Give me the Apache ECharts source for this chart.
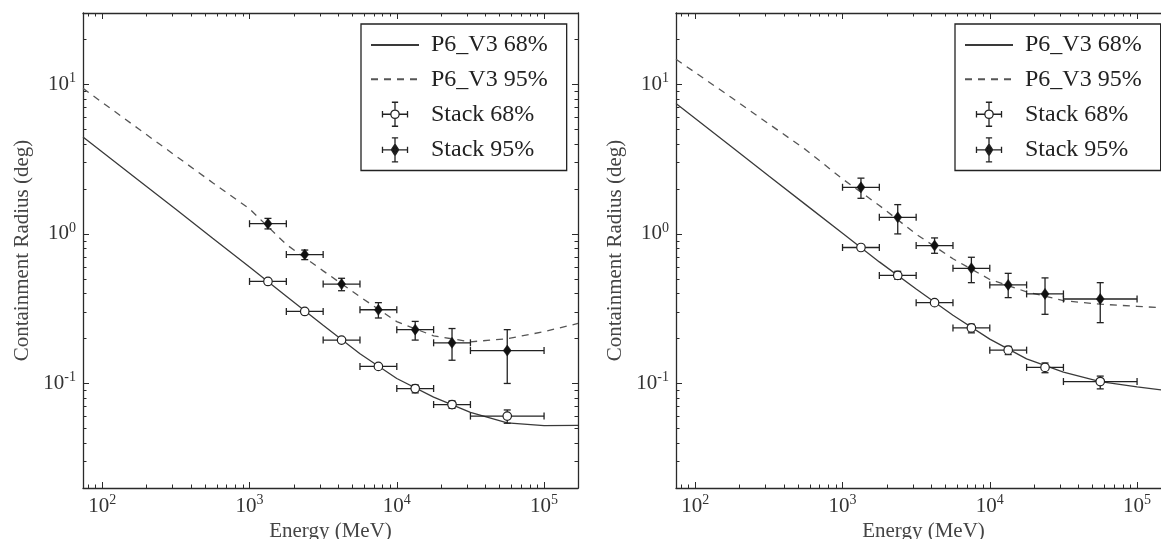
<!DOCTYPE html>
<html><head><meta charset="utf-8">
<script src="https://cdn.jsdelivr.net/npm/echarts@6/dist/echarts.min.js"></script>
<style>html,body{margin:0;padding:0;background:#fff}#c{width:1161px;height:539px}</style>
</head><body><div id="c"></div>
<script>
// ---- data ----
const energyBinCenters = [1334, 2371, 4217, 7499, 13335, 23714, 56234];
const energyBinLow = [1000, 1778, 3162, 5623, 10000, 17783, 31623];
const energyBinHigh = [1778, 3162, 5623, 10000, 17783, 31623, 100000];
const curveEnergies = [74, 100, 178, 316, 562, 1000, 1778, 3162, 5623, 10000, 17783, 31623, 56234, 100000, 170000];

const leftP6V3_68 = [4.45, 3.53, 2.27, 1.46, 0.936, 0.601, 0.383, 0.245, 0.158, 0.108, 0.081, 0.064, 0.0545, 0.0522, 0.0525];
const leftP6V3_95 = [9.4, 7.57, 5.01, 3.32, 2.20, 1.47, 0.85, 0.566, 0.380, 0.259, 0.208, 0.190, 0.199, 0.222, 0.252];
const rightP6V3_68 = [7.44, 5.92, 3.80, 2.44, 1.57, 1.01, 0.65, 0.428, 0.286, 0.198, 0.146, 0.119, 0.103, 0.095, 0.089];
const rightP6V3_95 = [14.7, 12.0, 8.1, 5.44, 3.66, 2.33, 1.55, 0.996, 0.682, 0.496, 0.410, 0.358, 0.339, 0.328, 0.318];

const leftStack68 = [0.481, 0.303, 0.195, 0.130, 0.0925, 0.0723, 0.0605];
const leftStack68Low = [0.470, 0.296, 0.190, 0.126, 0.0865, 0.0682, 0.0542];
const leftStack68High = [0.492, 0.311, 0.200, 0.134, 0.0977, 0.0764, 0.0665];
const leftStack95 = [1.17, 0.728, 0.462, 0.311, 0.229, 0.187, 0.166];
const leftStack95Low = [1.08, 0.673, 0.417, 0.274, 0.195, 0.143, 0.100];
const leftStack95High = [1.27, 0.78, 0.505, 0.347, 0.260, 0.233, 0.229];

const rightStack68 = [0.811, 0.528, 0.347, 0.235, 0.167, 0.128, 0.103];
const rightStack68Low = [0.79, 0.497, 0.338, 0.218, 0.156, 0.118, 0.092];
const rightStack68High = [0.83, 0.562, 0.356, 0.249, 0.177, 0.137, 0.112];
const rightStack95 = [2.05, 1.29, 0.836, 0.589, 0.456, 0.397, 0.367];
const rightStack95Low = [1.73, 1.00, 0.742, 0.472, 0.375, 0.290, 0.255];
const rightStack95High = [2.36, 1.57, 0.94, 0.698, 0.545, 0.508, 0.472];

const xMajorTicks = [100, 1000, 10000, 100000];
const xMinorTicks = [80, 90, 200, 300, 400, 500, 600, 700, 800, 900, 2000, 3000, 4000, 5000, 6000, 7000, 8000, 9000,
  20000, 30000, 40000, 50000, 60000, 70000, 80000, 90000];
const yMajorTicks = [0.1, 1, 10];
const yMinorTicks = [0.03, 0.04, 0.05, 0.06, 0.07, 0.08, 0.09, 0.2, 0.3, 0.4, 0.5, 0.6, 0.7, 0.8, 0.9, 2, 3, 4, 5, 6, 7, 8, 9, 20];

const seriesNames = ['P6_V3 68%', 'P6_V3 95%', 'Stack 68%', 'Stack 95%'];
const xTitle = 'Energy (MeV)';
const yTitle = 'Containment Radius (deg)';

// ---- chart ----
const FONT = 'Liberation Serif';
const X_MIN = 74, X_MAX = 170000, Y_MIN = 0.02, Y_MAX = 30;
const INK = '#2a2a2a';

function powLabel(v) {
  const e = Math.round(Math.log10(v));
  return '{b|10}{s|' + e + '}';
}
const labelRich = {
  b: {fontFamily: FONT, fontSize: 21, color: '#333', lineHeight: 26},
  s: {fontFamily: FONT, fontSize: 14, color: '#333', lineHeight: 16, verticalAlign: 'top'}
};

function xAxes(gi) {
  const base = {type: 'log', logBase: 10, gridIndex: gi, min: X_MIN, max: X_MAX, splitLine: {show: false}};
  return [
    Object.assign({}, base, {
      position: 'bottom',
      axisLine: {show: true, onZero: false, lineStyle: {color: INK, width: 1.3}},
      axisTick: {show: true, inside: true, length: 6, customValues: xMajorTicks, lineStyle: {color: INK, width: 1}},
      axisLabel: {show: true, margin: 5, customValues: xMajorTicks, formatter: powLabel, rich: labelRich},
      name: xTitle, nameLocation: 'middle', nameGap: 30,
      nameTextStyle: {fontFamily: FONT, fontSize: 21, color: '#444'}
    }),
    Object.assign({}, base, {
      position: 'bottom', axisLine: {show: false},
      axisTick: {show: true, inside: true, length: 3.5, customValues: xMinorTicks, lineStyle: {color: INK, width: 1}},
      axisLabel: {show: false}
    }),
    Object.assign({}, base, {
      position: 'top',
      axisLine: {show: true, onZero: false, lineStyle: {color: INK, width: 1.3}},
      axisTick: {show: true, inside: true, length: 6, customValues: xMajorTicks, lineStyle: {color: INK, width: 1}},
      axisLabel: {show: false}
    }),
    Object.assign({}, base, {
      position: 'top', axisLine: {show: false},
      axisTick: {show: true, inside: true, length: 3.5, customValues: xMinorTicks, lineStyle: {color: INK, width: 1}},
      axisLabel: {show: false}
    })
  ];
}
function yAxes(gi) {
  const base = {type: 'log', logBase: 10, gridIndex: gi, min: Y_MIN, max: Y_MAX, splitLine: {show: false}};
  return [
    Object.assign({}, base, {
      position: 'left',
      axisLine: {show: true, onZero: false, lineStyle: {color: INK, width: 1.3}},
      axisTick: {show: true, inside: true, length: 6, customValues: yMajorTicks, lineStyle: {color: INK, width: 1}},
      axisLabel: {show: true, margin: 7, customValues: yMajorTicks, formatter: powLabel, rich: labelRich},
      name: yTitle, nameLocation: 'middle', nameGap: 50, nameRotate: 90,
      nameTextStyle: {fontFamily: FONT, fontSize: 21, color: '#444'}
    }),
    Object.assign({}, base, {
      position: 'left', axisLine: {show: false},
      axisTick: {show: true, inside: true, length: 3.5, customValues: yMinorTicks, lineStyle: {color: INK, width: 1}},
      axisLabel: {show: false}
    }),
    Object.assign({}, base, {
      position: 'right',
      axisLine: {show: true, onZero: false, lineStyle: {color: INK, width: 1.3}},
      axisTick: {show: true, inside: true, length: 6, customValues: yMajorTicks, lineStyle: {color: INK, width: 1}},
      axisLabel: {show: false}
    }),
    Object.assign({}, base, {
      position: 'right', axisLine: {show: false},
      axisTick: {show: true, inside: true, length: 3.5, customValues: yMinorTicks, lineStyle: {color: INK, width: 1}},
      axisLabel: {show: false}
    })
  ];
}

function errorBarItem(params, api) {
  const x = api.value(0), y = api.value(1);
  const l = api.coord([api.value(2), y]);
  const r = api.coord([api.value(3), y]);
  const b = api.coord([x, api.value(4)]);
  const t = api.coord([x, api.value(5)]);
  const c = 3.5;
  const st = {stroke: '#222', lineWidth: 1.3, fill: null};
  const ln = (x1, y1, x2, y2) => ({type: 'line', shape: {x1, y1, x2, y2}, style: st});
  return {type: 'group', children: [
    ln(l[0], l[1], r[0], r[1]), ln(b[0], b[1], t[0], t[1]),
    ln(l[0], l[1] - c, l[0], l[1] + c), ln(r[0], r[1] - c, r[0], r[1] + c),
    ln(b[0] - c, b[1], b[0] + c, b[1]), ln(t[0] - c, t[1], t[0] + c, t[1])
  ]};
}

function panelSeries(axisIdx, p68, p95, s68, s68lo, s68hi, s95, s95lo, s95hi) {
  const curve = vals => curveEnergies.map((e, i) => [e, vals[i]]);
  const bars = (v, lo, hi) => energyBinCenters.map((e, i) => [e, v[i], energyBinLow[i], energyBinHigh[i], lo[i], hi[i]]);
  const pts = v => energyBinCenters.map((e, i) => [e, v[i]]);
  const ax = {xAxisIndex: axisIdx, yAxisIndex: axisIdx};
  return [
    Object.assign({type: 'line', name: seriesNames[0], data: curve(p68), symbol: 'none', smooth: false, z: 2,
      lineStyle: {color: '#3a3a3a', width: 1.3, type: 'solid'}, itemStyle: {color: '#3a3a3a'}}, ax),
    Object.assign({type: 'line', name: seriesNames[1], data: curve(p95), symbol: 'none', smooth: false, z: 2,
      lineStyle: {color: '#555', width: 1.3, type: [7, 6]}, itemStyle: {color: '#555'}}, ax),
    Object.assign({type: 'custom', name: seriesNames[2], renderItem: errorBarItem, data: bars(s68, s68lo, s68hi),
      encode: {x: [0, 2, 3], y: [1, 4, 5]}, z: 3}, ax),
    Object.assign({type: 'custom', name: seriesNames[3], renderItem: errorBarItem, data: bars(s95, s95lo, s95hi),
      encode: {x: [0, 2, 3], y: [1, 4, 5]}, z: 3}, ax),
    Object.assign({type: 'scatter', name: seriesNames[2], data: pts(s68), symbol: 'circle', symbolSize: 8.5, z: 4,
      itemStyle: {color: '#fff', borderColor: '#222', borderWidth: 1.2, opacity: 1}}, ax),
    Object.assign({type: 'scatter', name: seriesNames[3], data: pts(s95), symbol: 'diamond', symbolSize: [8, 11], z: 4,
      itemStyle: {color: '#111', borderColor: '#111', borderWidth: 0.5, opacity: 1}}, ax)
  ];
}

const OPEN_ICON = 'path://M0,11.5L8,11.5M16,11.5L24,11.5M12,0L12,7.5M12,15.5L12,23M0,8.5L0,14.5M24,8.5L24,14.5M9,0L15,0M9,23L15,23M16,11.5A4,4,0,1,1,8,11.5A4,4,0,1,1,16,11.5Z';
const FILLED_ICON = 'path://M0,11.5L24,11.5M12,0L12,23M0,8.5L0,14.5M24,8.5L24,14.5M9,0L15,0M9,23L15,23M12,6L15.5,11.5L12,17L8.5,11.5Z';

function makeLegend(left) {
  const hideSymbol = {color: 'rgba(0,0,0,0)', borderWidth: 0, opacity: 0};
  return {
    left: left, top: 24, orient: 'vertical', selectedMode: false,
    itemWidth: 48, itemHeight: 24, itemGap: 10.3,
    padding: [9, 19, 8, 9],
    borderColor: '#222', borderWidth: 1.3, backgroundColor: '#fff',
    textStyle: {fontFamily: FONT, fontSize: 24, color: '#222', lineHeight: 24, padding: [0, 0, 0, 7]},
    data: [
      {name: seriesNames[0], itemStyle: hideSymbol},
      {name: seriesNames[1], itemStyle: hideSymbol},
      {name: seriesNames[2], icon: OPEN_ICON, itemStyle: {color: '#fff', borderColor: '#222', borderWidth: 1.3}},
      {name: seriesNames[3], icon: FILLED_ICON, itemStyle: {color: '#111', borderColor: '#222', borderWidth: 1.3}}
    ]
  };
}

const chart = echarts.init(document.getElementById('c'), null, {renderer: 'canvas'});
chart.setOption({
  animation: false,
  backgroundColor: '#fff',
  grid: [
    {left: 83, right: 583, top: 13, bottom: 51, containLabel: false, outerBoundsMode: 'none'},
    {left: 676, right: -10, top: 13, bottom: 51, containLabel: false, outerBoundsMode: 'none'}
  ],
  xAxis: xAxes(0).concat(xAxes(1)),
  yAxis: yAxes(0).concat(yAxes(1)),
  legend: [makeLegend(361), makeLegend(955)],
  series: panelSeries(0, leftP6V3_68, leftP6V3_95, leftStack68, leftStack68Low, leftStack68High, leftStack95, leftStack95Low, leftStack95High)
    .concat(panelSeries(4, rightP6V3_68, rightP6V3_95, rightStack68, rightStack68Low, rightStack68High, rightStack95, rightStack95Low, rightStack95High))
});
</script></body></html>
